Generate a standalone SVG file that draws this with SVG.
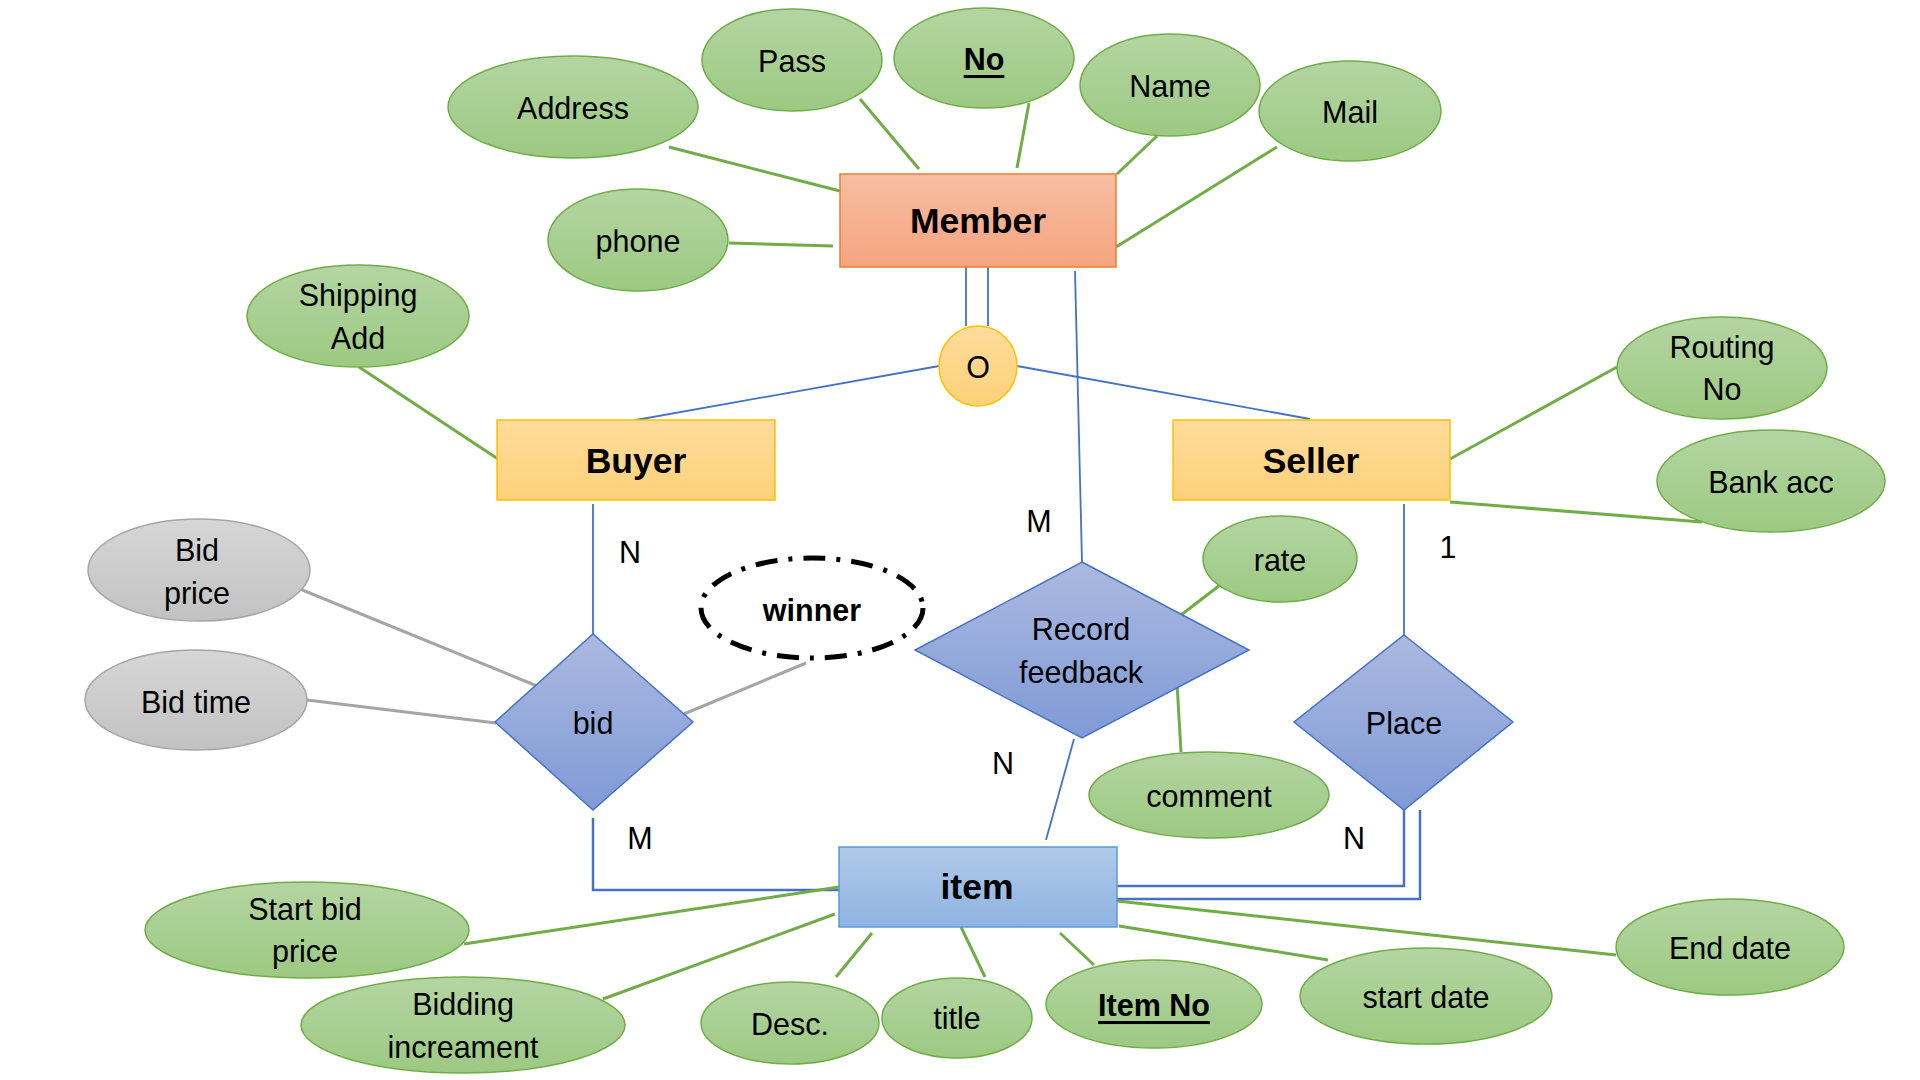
<svg xmlns="http://www.w3.org/2000/svg" width="1920" height="1080" viewBox="0 0 1920 1080">
<defs>
<linearGradient id="gGreen" x1="0" y1="0" x2="0" y2="1"><stop offset="0" stop-color="#b4d5a2"/><stop offset="1" stop-color="#9cc982"/></linearGradient>
<linearGradient id="gGray" x1="0" y1="0" x2="0" y2="1"><stop offset="0" stop-color="#d6d6d6"/><stop offset="1" stop-color="#c2c2c2"/></linearGradient>
<linearGradient id="gOrange" x1="0" y1="0" x2="0" y2="1"><stop offset="0" stop-color="#f7bda2"/><stop offset="1" stop-color="#f5a47f"/></linearGradient>
<linearGradient id="gGold" x1="0" y1="0" x2="0" y2="1"><stop offset="0" stop-color="#fedc9c"/><stop offset="1" stop-color="#fdd17a"/></linearGradient>
<linearGradient id="gBlue" x1="0" y1="0" x2="0" y2="1"><stop offset="0" stop-color="#afc9e9"/><stop offset="1" stop-color="#8fb3e1"/></linearGradient>
<linearGradient id="gDia" x1="0" y1="0" x2="0" y2="1"><stop offset="0" stop-color="#abb9e0"/><stop offset="1" stop-color="#7f9ad6"/></linearGradient>
</defs>
<style>
text{font-family:"Liberation Sans",Arial,sans-serif;font-size:30.5px;fill:#000;text-anchor:middle;dominant-baseline:central}
.b{font-weight:bold}
.big{font-weight:bold;font-size:35.5px}
.u{text-decoration:underline}
.attr{fill:url(#gGreen);stroke:#70ad47;stroke-width:1.5}
.gattr{fill:url(#gGray);stroke:#a5a5a5;stroke-width:1.5}
.rel{fill:url(#gDia);stroke:#4472c4;stroke-width:1.5}
.gl{stroke:#70ad47;stroke-width:3;fill:none}
.bl{stroke:#4472c4;stroke-width:1.8;fill:none}
.bl2{stroke:#4472c4;stroke-width:2.5;fill:none}
.gy{stroke:#a5a5a5;stroke-width:3;fill:none}
</style>
<rect width="1920" height="1080" fill="#fff"/>
<g id="connectors">
<line class="gl" x1="669" y1="147" x2="840" y2="191"/>
<line class="gl" x1="860" y1="99" x2="919" y2="169"/>
<line class="gl" x1="1029" y1="103" x2="1017" y2="168"/>
<line class="gl" x1="1157" y1="136" x2="1117" y2="174"/>
<line class="gl" x1="1277" y1="147" x2="1116" y2="247"/>
<line class="gl" x1="729" y1="243" x2="833" y2="246"/>
<line class="bl" x1="966" y1="253" x2="966" y2="326"/>
<line class="bl" x1="988" y1="253" x2="988" y2="326"/>
<line class="bl" x1="939" y1="366" x2="636" y2="420"/>
<line class="bl" x1="1017" y1="366" x2="1310" y2="419"/>
<line class="bl" x1="1075" y1="271" x2="1082" y2="562"/>
<line class="gl" x1="359" y1="367" x2="498" y2="459"/>
<line class="gl" x1="1450" y1="459" x2="1617" y2="367"/>
<line class="gl" x1="1450" y1="502" x2="1702" y2="522"/>
<line class="bl" x1="593" y1="504" x2="593" y2="634"/>
<polyline class="bl2" points="593,818 593,890 839,890"/>
<line class="gy" x1="295" y1="587" x2="542" y2="688"/>
<line class="gy" x1="307" y1="700" x2="496" y2="723"/>
<line class="gy" x1="806" y1="663" x2="684" y2="714"/>
<line class="bl" x1="1404" y1="504" x2="1404" y2="635"/>
<polyline class="bl2" points="1404,810 1404,886 1117,886"/>
<polyline class="bl2" points="1420,810 1420,899 1117,899"/>
<line class="bl" x1="1074" y1="739" x2="1046" y2="840"/>
<line class="gl" x1="1224" y1="582" x2="1181" y2="615"/>
<line class="gl" x1="1177" y1="683" x2="1181" y2="752"/>
<line class="gl" x1="464" y1="944" x2="839" y2="887"/>
<line class="gl" x1="603" y1="999" x2="835" y2="914"/>
<line class="gl" x1="836" y1="977" x2="872" y2="933"/>
<line class="gl" x1="985" y1="977" x2="961" y2="927"/>
<line class="gl" x1="1060" y1="933" x2="1094" y2="965"/>
<line class="gl" x1="1119" y1="926" x2="1328" y2="960"/>
<line class="gl" x1="1117" y1="901" x2="1616" y2="955"/>
</g>
<g id="cardinalities">
<text x="630" y="552">N</text>
<text x="1039" y="521">M</text>
<text x="1448" y="547">1</text>
<text x="1003" y="763">N</text>
<text x="640" y="838">M</text>
<text x="1354" y="838">N</text>
</g>
<g id="member"><rect x="840" y="174" width="276" height="93" fill="url(#gOrange)" stroke="#ed7d31" stroke-width="1.5"/><text class="big" x="978" y="221">Member</text></g>
<g id="address"><ellipse class="attr" cx="573" cy="107" rx="125" ry="51"/><text x="573" y="108">Address</text></g>
<g id="pass"><ellipse class="attr" cx="792" cy="60" rx="90" ry="51"/><text x="792" y="61">Pass</text></g>
<g id="no"><ellipse class="attr" cx="984" cy="58" rx="90" ry="50"/><text class="b u" x="984" y="59">No</text></g>
<g id="name"><ellipse class="attr" cx="1170" cy="85" rx="90" ry="51"/><text x="1170" y="86">Name</text></g>
<g id="mail"><ellipse class="attr" cx="1350" cy="111" rx="91" ry="50"/><text x="1350" y="112">Mail</text></g>
<g id="phone"><ellipse class="attr" cx="638" cy="240" rx="90" ry="51"/><text x="638" y="241">phone</text></g>
<g id="o"><ellipse cx="978" cy="366" rx="39" ry="40" fill="url(#gGold)" stroke="#ffc000" stroke-width="1.5"/><text x="978" y="367">O</text></g>
<g id="shipping"><ellipse class="attr" cx="358" cy="316" rx="111" ry="51"/><text x="358" y="295">Shipping</text><text x="358" y="338">Add</text></g>
<g id="buyer"><rect x="497" y="420" width="278" height="80" fill="url(#gGold)" stroke="#ffc000" stroke-width="1.5"/><text class="big" x="636" y="461">Buyer</text></g>
<g id="seller"><rect x="1173" y="420" width="277" height="80" fill="url(#gGold)" stroke="#ffc000" stroke-width="1.5"/><text class="big" x="1311" y="461">Seller</text></g>
<g id="routing"><ellipse class="attr" cx="1722" cy="368" rx="105" ry="51"/><text x="1722" y="347">Routing</text><text x="1722" y="389">No</text></g>
<g id="bankacc"><ellipse class="attr" cx="1771" cy="481" rx="114" ry="51"/><text x="1771" y="482">Bank acc</text></g>
<g id="bidprice"><ellipse class="gattr" cx="199" cy="570" rx="111" ry="51"/><text x="197" y="550">Bid</text><text x="197" y="593">price</text></g>
<g id="bidtime"><ellipse class="gattr" cx="196" cy="700" rx="111" ry="50"/><text x="196" y="702">Bid time</text></g>
<g id="bid"><polygon class="rel" points="593,634 693,722 593,810 495,722"/><text x="593" y="723">bid</text></g>
<g id="winner"><ellipse cx="812" cy="608" rx="111" ry="50" fill="#fff" stroke="#000" stroke-width="5" stroke-dasharray="22 11 4 11"/><text class="b" x="812" y="610">winner</text></g>
<g id="record"><polygon class="rel" points="1082,562 1249,650 1082,738 915,650"/><text x="1081" y="629">Record</text><text x="1081" y="672">feedback</text></g>
<g id="rate"><ellipse class="attr" cx="1280" cy="559" rx="77" ry="43"/><text x="1280" y="560">rate</text></g>
<g id="comment"><ellipse class="attr" cx="1209" cy="795" rx="120" ry="43"/><text x="1209" y="796">comment</text></g>
<g id="place"><polygon class="rel" points="1404,635 1513,722 1404,810 1294,722"/><text x="1404" y="723">Place</text></g>
<g id="item"><rect x="839" y="847" width="278" height="80" fill="url(#gBlue)" stroke="#5b9bd5" stroke-width="1.5"/><text class="big" x="977" y="887">item</text></g>
<g id="startbid"><ellipse class="attr" cx="307" cy="930" rx="162" ry="48"/><text x="305" y="909">Start bid</text><text x="305" y="951">price</text></g>
<g id="bidding"><ellipse class="attr" cx="463" cy="1025" rx="162" ry="48"/><text x="463" y="1004">Bidding</text><text x="463" y="1047">increament</text></g>
<g id="desc"><ellipse class="attr" cx="790" cy="1023" rx="89" ry="41"/><text x="790" y="1024">Desc.</text></g>
<g id="title"><ellipse class="attr" cx="957" cy="1018" rx="75" ry="40"/><text x="957" y="1018">title</text></g>
<g id="itemno"><ellipse class="attr" cx="1154" cy="1004" rx="108" ry="44"/><text class="b u" x="1154" y="1005">Item No</text></g>
<g id="startdate"><ellipse class="attr" cx="1426" cy="996" rx="126" ry="48"/><text x="1426" y="997">start date</text></g>
<g id="enddate"><ellipse class="attr" cx="1730" cy="947" rx="114" ry="48"/><text x="1730" y="948">End date</text></g>
</svg>
